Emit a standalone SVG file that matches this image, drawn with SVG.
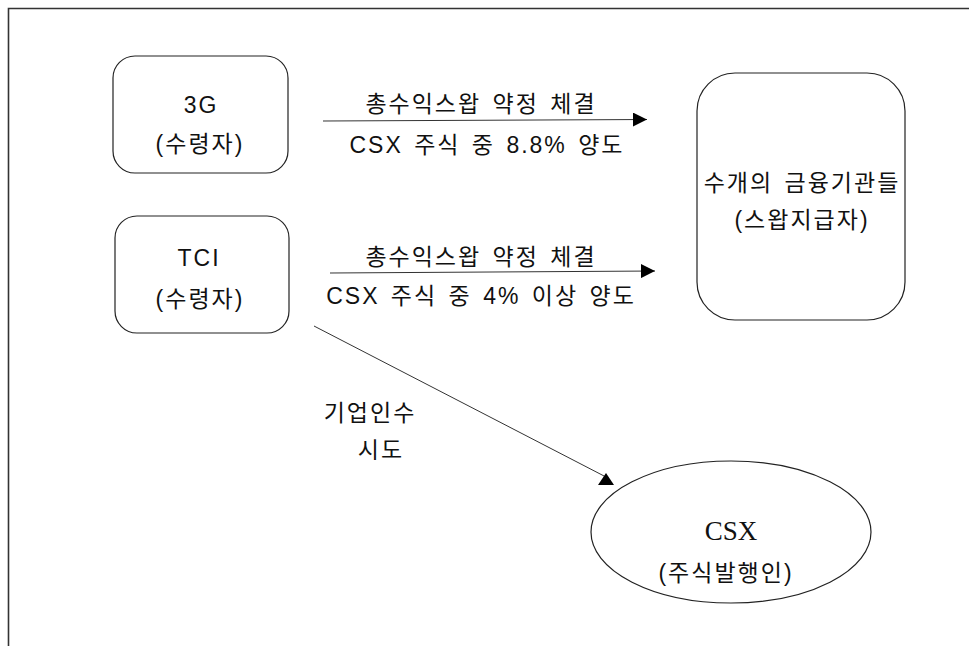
<svg xmlns="http://www.w3.org/2000/svg" width="969" height="646" viewBox="0 0 969 646">
<style>
.box{fill:#fff;stroke:#222;stroke-width:1.2}
.ln{fill:none;stroke:#333;stroke-width:1}
.t{font-family:"Liberation Sans","Noto Sans CJK KR",sans-serif;font-size:23px;fill:#111;text-anchor:middle;letter-spacing:2px;word-spacing:3px}
.s{font-family:"Liberation Serif","Noto Serif CJK KR",serif;font-size:27px;fill:#111;text-anchor:middle}
</style>
<defs>
<marker id="ah" markerWidth="14" markerHeight="14" refX="14" refY="7" orient="auto" markerUnits="userSpaceOnUse">
<path d="M0,0 L14,7 L0,14 Z" fill="#000"/>
</marker>
<marker id="up" markerWidth="16" markerHeight="14" refX="8" refY="4" orient="0" markerUnits="userSpaceOnUse">
<path d="M8,0 L16,12 L0,12 Z" fill="#000"/>
</marker>
</defs>
<rect width="969" height="646" fill="#fff"/>
<path d="M8.5,646 V8.5 H969" fill="none" stroke="#333" stroke-width="1.6"/>
<g id="n3g">
<rect class="box" x="113" y="56" width="175" height="117" rx="22"/>
<text class="t" x="201" y="113">3G</text>
<text class="t" x="200" y="152">(수령자)</text>
</g>
<g id="ntci">
<rect class="box" x="115" y="216" width="174" height="117" rx="22"/>
<text class="t" x="199" y="266">TCI</text>
<text class="t" x="200" y="307">(수령자)</text>
</g>
<g id="nfin">
<rect class="box" x="697" y="73" width="208" height="247" rx="38"/>
<text class="t" x="802" y="191">수개의 금융기관들</text>
<text class="t" x="802" y="228">(스왑지급자)</text>
</g>
<g id="ncsx">
<ellipse class="box" cx="731" cy="532" rx="140" ry="71"/>
<text class="s" x="731" y="540">CSX</text>
<text class="t" x="726" y="581">(주식발행인)</text>
</g>
<g id="connectors">
<line class="ln" x1="323" y1="121" x2="647" y2="119.5" marker-end="url(#ah)"/>
<line class="ln" x1="330" y1="273" x2="655" y2="271" marker-end="url(#ah)"/>
<line class="ln" x1="314" y1="326" x2="606" y2="477" marker-end="url(#up)"/>
</g>
<g id="labels">
<text class="t" x="481" y="112">총수익스왑 약정 체결</text>
<text class="t" x="487" y="153">CSX 주식 중 8.8% 양도</text>
<text class="t" x="481" y="265">총수익스왑 약정 체결</text>
<text class="t" x="481" y="304">CSX 주식 중 4% 이상 양도</text>
<text class="t" x="370" y="421">기업인수</text>
<text class="t" x="381" y="458">시도</text>
</g>
</svg>
